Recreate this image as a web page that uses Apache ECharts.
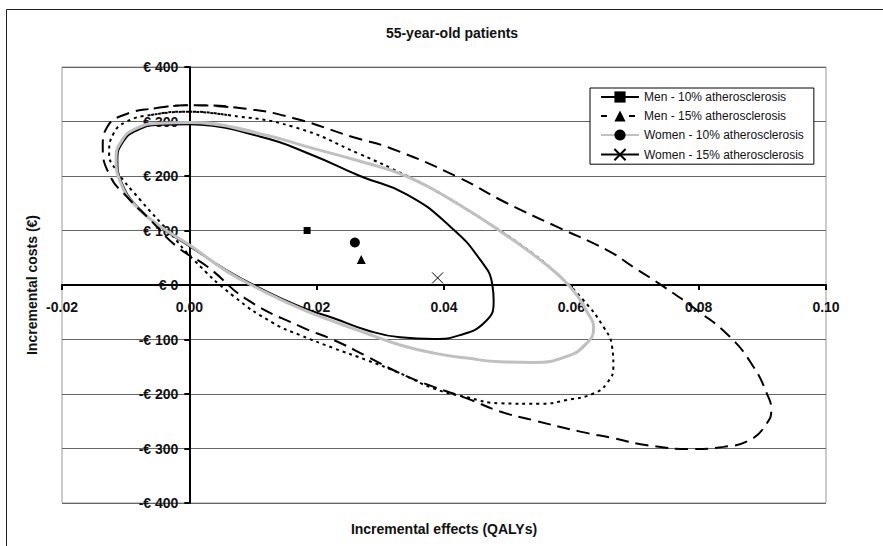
<!DOCTYPE html>
<html><head><meta charset="utf-8">
<script src="https://cdn.jsdelivr.net/npm/echarts@6/dist/echarts.min.js"></script>
<style>html,body{margin:0;padding:0;background:#fff}#c{width:883px;height:546px}</style>
</head><body><div id="c"></div>
<script>
const seriesNames = ['Men - 10% atherosclerosis','Men - 15% atherosclerosis','Women - 10% atherosclerosis','Women - 15% atherosclerosis'];
const chartTitle = '55-year-old patients';
const xTitle = 'Incremental effects (QALYs)';
const yTitle = 'Incremental costs (€)';
const xTicks = [-0.02, 0.10, 0.02];   // min, max, interval
const yTicks = [-400, 400, 100];
// point estimates [effect, cost]
const pointMen10 = [0.0185, 100];
const pointMen15 = [0.027, 47];
const pointWomen10 = [0.026, 78];
const pointWomen15 = [0.039, 13];
// confidence ellipses
const ellipseMen10 = [[0.0000,295],[0.0112,272],[0.0190,240],[0.0268,200],[0.0342,166],[0.0410,107],[0.0457,46],[0.0476,0],[0.0478,-30],[0.0466,-66],[0.0425,-92],[0.0384,-99],[0.0331,-96],[0.0279,-83],[0.0227,-61],[0.0174,-40],[0.0106,-3],[0.0059,27],[0.0002,70],[-0.0046,107],[-0.0082,144],[-0.0106,187],[-0.0113,229],[-0.0104,263],[-0.0082,284],[-0.0046,294],[0.0000,295]];
const ellipseWomen10 = [[0.0000,298],[0.0112,277],[0.0190,252],[0.0268,227],[0.0342,199],[0.0420,150],[0.0493,95],[0.0551,46],[0.0598,-3],[0.0625,-50],[0.0635,-80],[0.0624,-107],[0.0593,-131],[0.0540,-142],[0.0488,-141],[0.0436,-134],[0.0384,-125],[0.0331,-110],[0.0279,-89],[0.0227,-67],[0.0174,-43],[0.0106,-5],[0.0059,25],[0.0002,72],[-0.0046,108],[-0.0085,146],[-0.0108,188],[-0.0115,232],[-0.0106,265],[-0.0084,287],[-0.0046,297],[0.0000,298]];
const ellipseMen15 = [[-0.0004,318],[0.0059,312],[0.0164,290],[0.0268,240],[0.0342,200],[0.0394,168],[0.0446,131],[0.0525,70],[0.0577,21],[0.0619,-28],[0.0650,-76],[0.0664,-113],[0.0666,-150],[0.0656,-180],[0.0635,-199],[0.0593,-211],[0.0551,-218],[0.0488,-217],[0.0436,-206],[0.0384,-190],[0.0331,-162],[0.0279,-138],[0.0227,-116],[0.0174,-92],[0.0132,-70],[0.0070,-21],[0.0007,46],[-0.0030,95],[-0.0077,156],[-0.0115,211],[-0.0126,242],[-0.0119,278],[-0.0098,300],[-0.0060,312],[-0.0004,318]];
const ellipseWomen15 = [[0.0002,330],[0.0085,324],[0.0164,306],[0.0258,271],[0.0316,251],[0.0420,199],[0.0499,150],[0.0577,107],[0.0656,64],[0.0700,31],[0.0745,-3],[0.0797,-46],[0.0849,-95],[0.0886,-150],[0.0907,-199],[0.0914,-229],[0.0907,-254],[0.0881,-284],[0.0839,-297],[0.0792,-301],[0.0719,-294],[0.0666,-281],[0.0614,-269],[0.0540,-248],[0.0488,-232],[0.0436,-208],[0.0384,-187],[0.0331,-162],[0.0279,-131],[0.0227,-101],[0.0174,-76],[0.0091,-27],[0.0028,34],[-0.0019,70],[-0.0061,119],[-0.0098,162],[-0.0124,199],[-0.0136,254],[-0.0129,290],[-0.0103,312],[-0.0056,324],[0.0002,330]];

const FONT = '"Liberation Sans", Arial, sans-serif';
const chart = echarts.init(document.getElementById('c'), null, {renderer: 'svg'});

// closed loop: wrap one point on each side so the smooth curve has no corner at the seam
function loop(pts) { return [pts[pts.length - 2]].concat(pts, [pts[1]]); }
function ellipse(name, data, lineStyle) {
  return {name: name, type: 'line', data: loop(data), smooth: 0.5, showSymbol: false, silent: true,
    lineStyle: lineStyle, z: 2, animation: false};
}
function point(name, data, symbol, size, lineStyle, itemStyle) {
  return {name: name, type: 'line', data: [data], symbol: symbol, symbolSize: size, showSymbol: true,
    symbolKeepAspect: true, lineStyle: lineStyle, itemStyle: itemStyle, z: 5, animation: false};
}

const GL = 62, GR = 57, GT = 67, GB = 43, W = 883, H = 546;
const gw = W - GL - GR, gh = H - GT - GB;
const xZeroOffset = -gw * (0 - xTicks[0]) / (xTicks[1] - xTicks[0]);
const yZeroOffset = -gh * (0 - yTicks[0]) / (yTicks[1] - yTicks[0]);

chart.setOption({
  animation: false,
  backgroundColor: '#fff',
  textStyle: {fontFamily: FONT},
  grid: {left: GL, right: GR, top: GT, bottom: GB, show: true, borderColor: '#999', borderWidth: 1, backgroundColor: 'transparent'},
  xAxis: {
    type: 'value', min: xTicks[0], max: xTicks[1], interval: xTicks[2], position: 'bottom', offset: yZeroOffset,
    axisLine: {onZero: false, lineStyle: {color: '#000', width: 2}},
    axisTick: {show: true, length: 5, lineStyle: {color: '#000', width: 2}},
    axisLabel: {margin: 15, color: '#111', fontSize: 14, fontWeight: 'bold', fontFamily: FONT,
      formatter: function (v) { return (Math.abs(v) < 1e-9 ? 0 : v).toFixed(2); }},
    splitLine: {show: false}
  },
  yAxis: {
    type: 'value', min: yTicks[0], max: yTicks[1], interval: yTicks[2], position: 'left', offset: xZeroOffset,
    axisLine: {onZero: false, lineStyle: {color: '#000', width: 2}},
    axisTick: {show: true, length: 5, lineStyle: {color: '#000', width: 2}},
    axisLabel: {margin: 11, color: '#111', fontSize: 14, fontWeight: 'bold', fontFamily: FONT,
      formatter: function (v) { return v < 0 ? '-€ ' + Math.abs(v) : '€ ' + v; }},
    splitLine: {show: true, lineStyle: {color: '#666', width: 1}}
  },
  legend: {
    orient: 'vertical', left: 590, top: 88, padding: [3, 10, 3, 10],
    itemWidth: 38, itemHeight: 14, itemGap: 7,
    borderColor: '#000', borderWidth: 1, backgroundColor: '#fff',
    textStyle: {fontSize: 12, color: '#111', fontFamily: FONT},
    data: seriesNames, selectedMode: false
  },
  graphic: [
    {type: 'rect', shape: {x: 6.5, y: 9.5, width: 1000, height: 1000}, style: {fill: 'none', stroke: '#222', lineWidth: 1}, z: -10, silent: true},
    {type: 'text', x: 452, y: 33, style: {text: chartTitle, font: 'bold 14px ' + FONT, fill: '#111', textAlign: 'center', textVerticalAlign: 'middle'}},
    {type: 'text', x: 444, y: 529, style: {text: xTitle, font: 'bold 14px ' + FONT, fill: '#111', textAlign: 'center', textVerticalAlign: 'middle'}},
    {type: 'text', x: 32, y: 285, rotation: Math.PI / 2, style: {text: yTitle, font: 'bold 14px ' + FONT, fill: '#111', textAlign: 'center', textVerticalAlign: 'middle'}}
  ],
  series: [
    ellipse('e1', ellipseMen10, {color: '#000', width: 2, type: 'solid'}),
    ellipse('e2', ellipseMen15, {color: '#000', width: 2, type: [3, 4]}),
    ellipse('e3', ellipseWomen10, {color: '#c0c0c0', width: 3, type: 'solid'}),
    ellipse('e4', ellipseWomen15, {color: '#000', width: 2, type: [13, 7]}),
    point(seriesNames[0], pointMen10, 'rect', 7, {color: '#000', width: 2}, {color: '#000'}),
    point(seriesNames[1], pointMen15, 'triangle', 9, {color: '#000', width: 2, type: [6, 22]}, {color: '#000'}),
    point(seriesNames[2], pointWomen10, 'circle', 10, {color: '#c0c0c0', width: 2}, {color: '#000'}),
    point(seriesNames[3], pointWomen15, 'path://M0 0L10 10M10 0L0 10', 11, {color: '#000', width: 3}, {color: '#000', borderColor: '#000', borderWidth: 1})
  ]
});
</script></body></html>
